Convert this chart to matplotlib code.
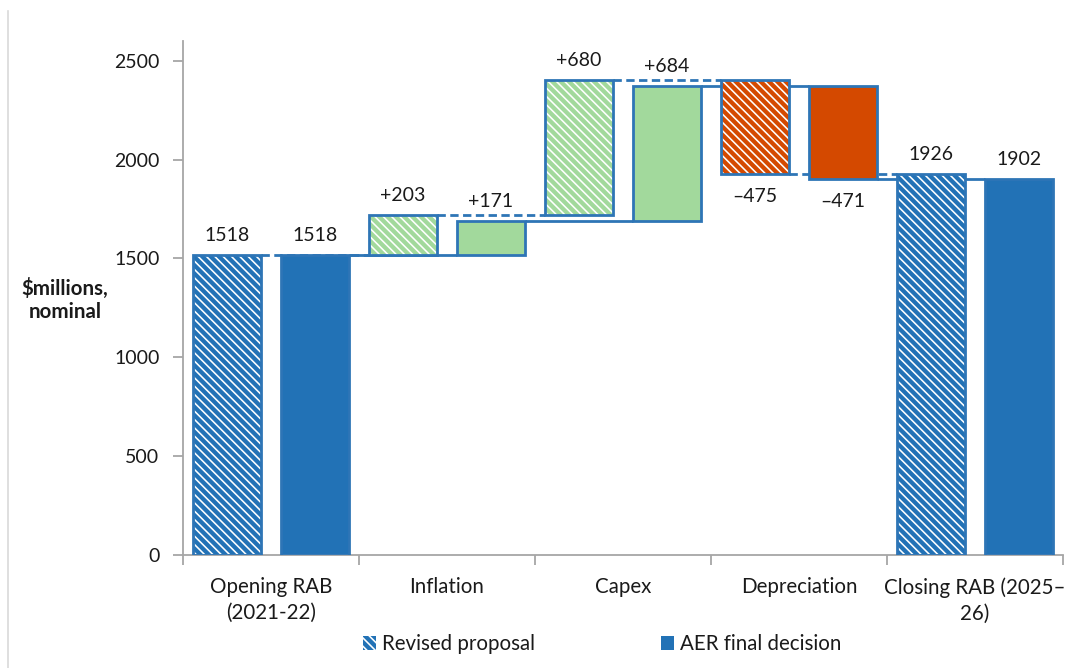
import numpy as np
import matplotlib
matplotlib.use("Agg")
import matplotlib.pyplot as plt
from matplotlib.patches import Patch

# Waterfall of the regulatory asset base, $m nominal
categories = ["Opening RAB\n(2021-22)", "Inflation", "Capex", "Depreciation",
              "Closing RAB (2025–\n26)"]
revised = [1518, 203, 680, -475, 1926]
aer_final = [1518, 171, 684, -471, 1902]
series_names = ["Revised proposal", "AER final decision"]
y_ticks = [0, 500, 1000, 1500, 2000, 2500]

BLUE = "#2272B6"
EDGE = "#2E75B6"
GREEN = "#A2D99C"
ORANGE = "#D44900"
GREY = "#A6A6A6"
TEXT = "#1A1A1A"

plt.rcParams["font.family"] = ["Lato", "DejaVu Sans"]
plt.rcParams["font.size"] = 14
plt.rcParams["hatch.linewidth"] = 1.15
HATCH = "\\" * 4
LABEL_SIZE = 14.8


def waterfall(values):
    """Return bottoms, heights and colours of each step."""
    bottoms, heights, colors = [], [], []
    running = 0
    n = len(values)
    for i, v in enumerate(values):
        if i == 0 or i == n - 1:
            bottoms.append(0)
            heights.append(v)
            colors.append(BLUE)
            running = v
        else:
            if v >= 0:
                bottoms.append(running)
                heights.append(v)
                colors.append(GREEN)
            else:
                bottoms.append(running + v)
                heights.append(-v)
                colors.append(ORANGE)
            running += v
    return bottoms, heights, colors


W, H = 1065, 668
fig = plt.figure(figsize=(W / 100, H / 100), dpi=100)
ax = fig.add_axes([183 / W, 1 - 555 / H, (1063 - 183) / W, (555 - 41) / H])

x = np.arange(len(categories))
width = 0.39
offsets = [-0.25, 0.25]

for s, (vals, off) in enumerate(zip([revised, aer_final], offsets)):
    bottoms, heights, colors = waterfall(vals)
    xs = x + off
    if s == 0:
        ax.bar(xs, heights, width, bottom=bottoms, color=colors,
               edgecolor="white", linewidth=0, hatch=HATCH, zorder=2)
    else:
        ax.bar(xs, heights, width, bottom=bottoms, color=colors,
               linewidth=0, zorder=2)
    ax.bar(xs, heights, width, bottom=bottoms, fill=False,
           edgecolor=EDGE, linewidth=2.0, zorder=3)

    # connector lines between consecutive steps
    levels = np.cumsum(vals[:-1])
    ls = (0, (3, 1.6)) if s == 0 else "-"
    for i, lev in enumerate(levels):
        ax.plot([i + off + width / 2, i + 1 + off - width / 2], [lev, lev],
                color=EDGE, linewidth=2.0, linestyle=ls, zorder=1,
                solid_capstyle="butt")

    # value labels
    for i, v in enumerate(vals):
        top = bottoms[i] + heights[i]
        if i == 0 or i == len(vals) - 1:
            txt, y, dy, va = f"{v}", top, 8, "bottom"
        elif v >= 0:
            txt, y, dy, va = f"+{v}", top, 8, "bottom"
        else:
            txt, y, dy, va = f"–{abs(v)}", bottoms[i], -10, "top"
        ax.annotate(txt, (xs[i], y), xytext=(0, dy), textcoords="offset points",
                    ha="center", va=va, color=TEXT, zorder=5)

ax.set_xlim(-0.5, len(categories) - 0.5)
ax.set_ylim(0, 2600)
ax.set_yticks(y_ticks)
ax.set_yticklabels([str(t) for t in y_ticks])

ax.set_xticks(np.arange(len(categories) + 1) - 0.5)
ax.set_xticklabels([])
ax.set_xticks(x, minor=True)
ax.set_xticklabels(categories, minor=True, fontsize=LABEL_SIZE,
                   linespacing=1.35)
ax.tick_params(axis="x", which="major", length=7, width=1.3, color=GREY)
ax.tick_params(axis="x", which="minor", length=0, pad=16, labelcolor=TEXT)
ax.tick_params(axis="y", length=7, width=1.3, color=GREY, pad=10,
               labelcolor=TEXT)

for side in ["top", "right"]:
    ax.spines[side].set_visible(False)
for side in ["left", "bottom"]:
    ax.spines[side].set_color(GREY)
    ax.spines[side].set_linewidth(1.3)

fig.text(65 / W, 1 - 300 / H, "$millions,\nnominal", ha="center", va="center",
         multialignment="center", fontweight="bold", color=TEXT,
         fontsize=LABEL_SIZE, linespacing=1.2)

handles = [Patch(facecolor=BLUE, edgecolor="white", linewidth=0, hatch=HATCH),
           Patch(facecolor=BLUE, linewidth=0)]
fig.legend(handles, series_names, loc="center",
           bbox_to_anchor=(602 / W, 1 - 644 / H), ncol=2, frameon=False,
           handlelength=0.65, handleheight=0.65, handletextpad=0.3,
           columnspacing=6.1, labelcolor=TEXT, fontsize=LABEL_SIZE)

# thin outer frame line on the left
fig.add_artist(plt.Line2D([8 / W, 8 / W], [0, 1 - 11 / H],
                          transform=fig.transFigure, color="#D9D9D9",
                          linewidth=1.2))

fig.savefig("out.png", dpi=100, facecolor="white")
